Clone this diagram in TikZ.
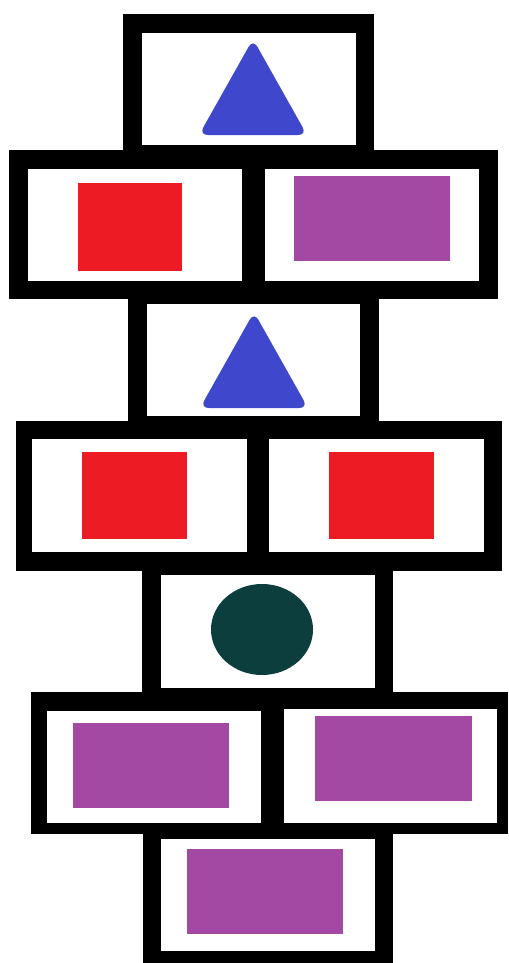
\documentclass[tikz,border=0pt]{standalone}
\usepackage{tikz}
\usetikzlibrary{calc}

\definecolor{tribl}{RGB}{63,72,204}
\definecolor{sqred}{RGB}{237,28,36}
\definecolor{boxpu}{RGB}{163,73,164}
\definecolor{dotgr}{RGB}{12,62,62}

\begin{document}
\begin{tikzpicture}[
			x=0.02cm, y=-0.02cm,
			brick/.style={fill=black},
			hole/.style={fill=white},
			tri/.style={fill=tribl, rounded corners=5pt},
			redsq/.style={fill=sqred},
			purplebox/.style={fill=boxpu},
			dot/.style={fill=dotgr}
			]
			
			\useasboundingbox[fill=white] (0,0) rectangle (508,963);
			
			% black outer frames
			\fill[brick] (123,14) rectangle (374,150);
			\fill[brick] (9,150) rectangle (498,299);
			\fill[brick] (128,299) rectangle (379,421);
			\fill[brick] (16,421) rectangle (502,571);
			\fill[brick] (142,571) rectangle (393,692);
			\fill[brick] (31,692) rectangle (508,834);
			\fill[brick] (143,834) rectangle (393,963);
			
			% white cells
			\fill[hole] (142,33) rectangle (356,145);
			\fill[hole] (28,169) rectangle (242,281);
			\fill[hole] (265,169) rectangle (479,281);
			\fill[hole] (147,304) rectangle (360,416);
			\fill[hole] (32,439) rectangle (247,552);
			\fill[hole] (269,439) rectangle (484,552);
			\fill[hole] (161,575) rectangle (375,688);
			\fill[hole] (47,711) rectangle (261,823);
			\fill[hole] (284,709) rectangle (497,823);
			\fill[hole] (161,839) rectangle (375,951);
			
			% shapes in the cells
			\fill[tri] (253,39) -- (307,135) -- (199,135) -- cycle;
			\fill[redsq] (78,183) rectangle (182,271);
			\fill[purplebox] (294,176) rectangle (450,261);
			\fill[tri] (254,312) -- (308,408) -- (200,408) -- cycle;
			\fill[redsq] (82,452) rectangle (187,539);
			\fill[redsq] (329,452) rectangle (434,539);
			\fill[dot] (262,629.5) ellipse (51 and 45.5);
			\fill[purplebox] (73,723) rectangle (229,808);
			\fill[purplebox] (315,716) rectangle (472,801);
			\fill[purplebox] (187,849) rectangle (343,934);
		\end{tikzpicture}
\end{document}
